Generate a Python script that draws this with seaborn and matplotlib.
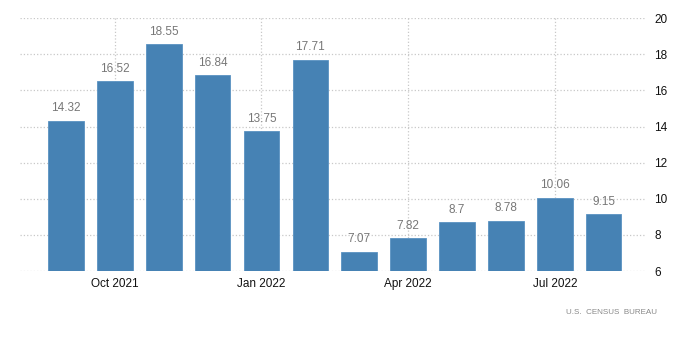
import matplotlib
matplotlib.use('Agg')
import matplotlib.pyplot as plt
import seaborn as sns
import pandas as pd

# data
months = ['Sep 2021', 'Oct 2021', 'Nov 2021', 'Dec 2021', 'Jan 2022', 'Feb 2022',
          'Mar 2022', 'Apr 2022', 'May 2022', 'Jun 2022', 'Jul 2022', 'Aug 2022']
values = [14.32, 16.52, 18.55, 16.84, 13.75, 17.71, 7.07, 7.82, 8.7, 8.78, 10.06, 9.15]
shown_ticks = ['Oct 2021', 'Jan 2022', 'Apr 2022', 'Jul 2022']
y_ticks = [6, 8, 10, 12, 14, 16, 18, 20]

df = pd.DataFrame({'month': months, 'value': values})

sns.set_style('white')
plt.rcParams['font.family'] = ['Liberation Sans', 'DejaVu Sans']

fig = plt.figure(figsize=(7, 3.63), dpi=100)
ax = fig.add_axes([0.0286, 0.2534, 0.8924, 0.6966])

sns.barplot(data=df, x='month', y='value', color='#4682b4', saturation=1,
            width=0.73, edgecolor='#5a92c2', linewidth=0.6, ax=ax, zorder=3)

# value labels above bars
for i, v in enumerate(values):
    ax.text(i, v + 0.35, f'{v:g}', ha='center', va='bottom', fontsize=8.5, color='#777777')

ax.set_ylim(6, 20)
ax.set_xlim(-0.94, 11.84)
ax.set_yticks(y_ticks)
ax.yaxis.tick_right()
ax.tick_params(axis='y', length=0, pad=7, labelsize=8.5, labelcolor='#111111')

tick_pos = [months.index(m) for m in shown_ticks]
ax.set_xticks(tick_pos)
ax.set_xticklabels(shown_ticks)
ax.tick_params(axis='x', length=0, pad=5, labelsize=8.5, labelcolor='#111111')

ax.grid(True, linestyle=':', color='#c8c8c8', linewidth=0.9, zorder=0)
ax.set_axisbelow(True)
ax.set_xlabel('')
ax.set_ylabel('')
for s in ax.spines.values():
    s.set_visible(False)

fig.text(0.938, 0.14, 'U.S.  CENSUS  BUREAU', ha='right', va='center',
         fontsize=5.8, color='#888888')

fig.savefig('out.png', dpi=100)
